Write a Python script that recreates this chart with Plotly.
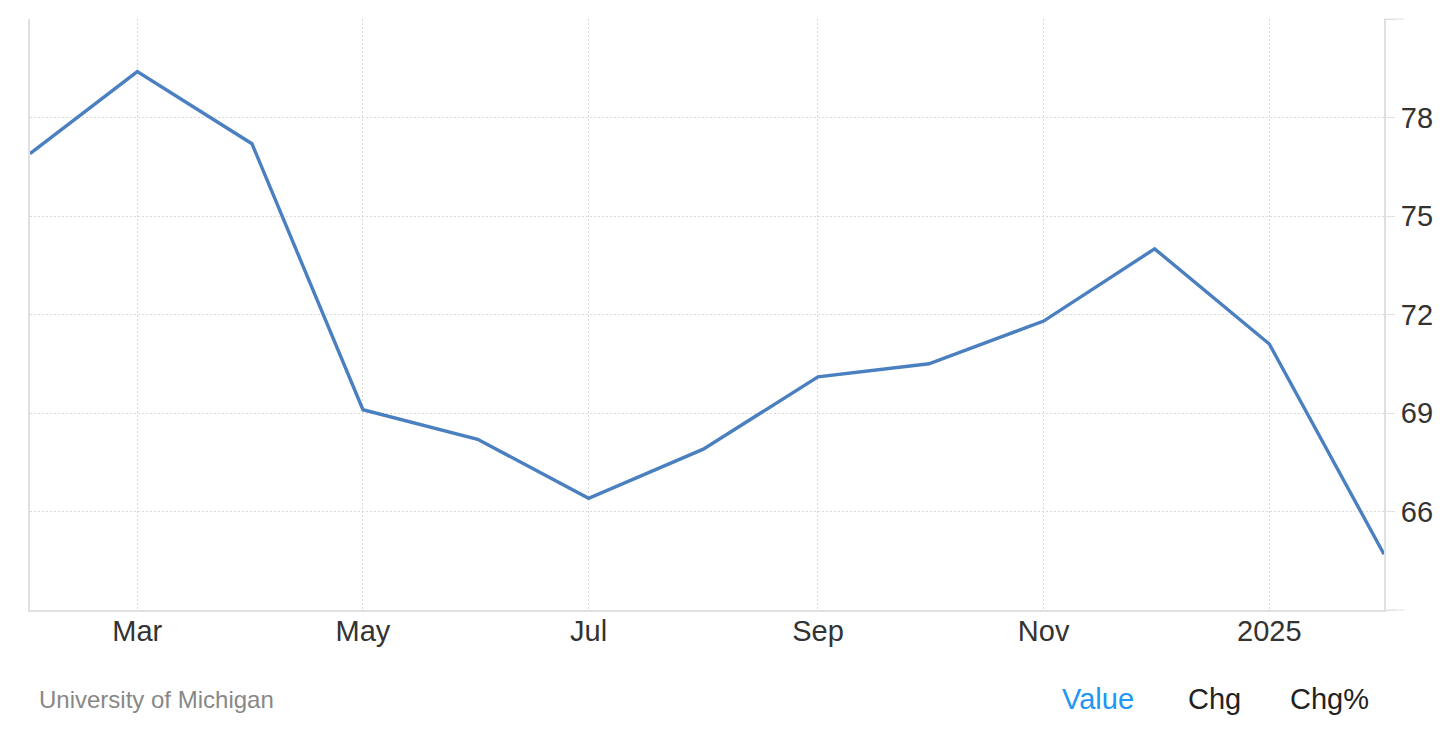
import plotly.graph_objects as go

dates = ["2024-02-01", "2024-03-01", "2024-04-01", "2024-05-01", "2024-06-01", "2024-07-01",
         "2024-08-01", "2024-09-01", "2024-10-01", "2024-11-01", "2024-12-01", "2025-01-01",
         "2025-02-01"]
values = [76.9, 79.4, 77.2, 69.1, 68.2, 66.4, 67.9, 70.1, 70.5, 71.8, 74.0, 71.1, 64.7]

x_tick_vals = ["2024-03-01", "2024-05-01", "2024-07-01", "2024-09-01", "2024-11-01", "2025-01-01"]
x_tick_text = ["Mar", "May", "Jul", "Sep", "Nov", "2025"]
y_tick_vals = [63, 66, 69, 72, 75, 78, 81]
y_tick_text = ["", "66", "69", "72", "75", "78", ""]

source = "University of Michigan"
buttons = ["Value", "Chg", "Chg%"]
button_colors = ["#2196f3", "#222222", "#222222"]
button_x = [0.7888, 0.8745, 0.9594]

FONT = "Liberation Sans, Arial, Helvetica, sans-serif"

fig = go.Figure()
fig.add_trace(go.Scatter(
    x=dates, y=values, mode="lines",
    line=dict(color="#4a7fc0", width=3.4),
    hoverinfo="x+y", showlegend=False,
))

fig.update_layout(
    width=1438, height=732,
    margin=dict(l=22, r=62, t=11, b=130),
    paper_bgcolor="white", plot_bgcolor="white",
    font=dict(family=FONT, size=29, color="#333333"),
    xaxis=dict(
        type="date",
        range=["2024-02-01", "2025-02-01"],
        tickvals=x_tick_vals, ticktext=x_tick_text,
        showgrid=True, gridcolor="#d9d9d9", griddash="2px,2px", gridwidth=1,
        showline=True, linecolor="#e0e0e0", linewidth=2,
        ticks="", zeroline=False,
        ticklabelstandoff=-6,
        tickfont=dict(family=FONT, size=29, color="#333333"),
    ),
    yaxis=dict(
        range=[63, 81], side="right",
        tickvals=y_tick_vals, ticktext=y_tick_text,
        showgrid=True, gridcolor="#d9d9d9", griddash="2px,2px", gridwidth=1,
        showline=True, mirror=True, linecolor="#e0e0e0", linewidth=2,
        ticks="outside", ticklen=9, tickcolor="#e0e0e0", tickwidth=1,
        zeroline=False,
        tickfont=dict(family=FONT, size=29, color="#333333"),
    ),
)

# extended tick lines at top and bottom of the right axis
for yv in (0, 1):
    fig.add_shape(type="line", xref="paper", yref="paper",
                  x0=1, x1=1.0148, y0=yv, y1=yv,
                  line=dict(color="#e0e0e0", width=1))

fig.add_annotation(text=source, xref="paper", yref="paper", x=0.0052, y=-0.1506,
                   xanchor="left", yanchor="middle", showarrow=False,
                   font=dict(family=FONT, size=24, color="#888888"))
for label, col, bx in zip(buttons, button_colors, button_x):
    fig.add_annotation(text=label, xref="paper", yref="paper", x=bx, y=-0.1506,
                       xanchor="center", yanchor="middle", showarrow=False,
                       font=dict(family=FONT, size=29, color=col))

fig.write_html("out.html")
